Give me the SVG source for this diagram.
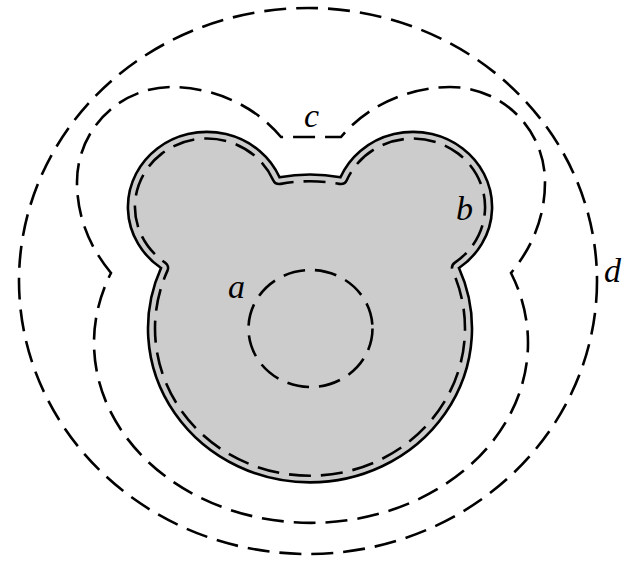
<svg xmlns="http://www.w3.org/2000/svg" width="638" height="561" viewBox="0 0 638 561">
<style>
.dash{fill:none;stroke:#000;stroke-width:2.6;stroke-dasharray:22 10}
.outline{fill:#cccccc;stroke:#000;stroke-width:2.6;stroke-linejoin:miter}
.lbl{font-family:"Liberation Serif","DejaVu Serif",serif;font-style:italic;font-size:34px;fill:#000}
</style>
<rect width="638" height="561" fill="#fff"/>
<g id="curve-d">
<ellipse class="dash" cx="308" cy="281" rx="289" ry="273"/>
</g>
<g id="curve-c">
<path class="dash" d="M111,273 C92,250 77,220 77,182 C77,129.5 119.5,87 172,87 C205,87 250,100 281,137 L341,137 C372,100 417,87 450,87 C502.5,87 545,129.5 545,182 C545,220 530,250 511,273 A217 180 0 1 1 111,273 Z"/>
</g>
<g id="bear">
<path class="outline" d="M279.53,177.34 A162 153.9 0 0 1 340.47,177.34 A79 75.05 0 1 1 458.97,268 A162 153.9 0 1 1 161.03,268 A79 75.05 0 1 1 279.53,177.34 Z"/>
</g>
<g id="curve-b">
<path class="dash" d="M273.1,179.97 A7 6.65 0 0 0 280.85,183.87 A155 147.25 0 0 1 339.15,183.87 A7 6.65 0 0 0 346.9,179.97 A72 68.4 0 1 1 454.9,262.6 A7 6.65 0 0 0 452.53,270.62 A155 147.25 0 1 1 167.47,270.62 A7 6.65 0 0 0 165.1,262.6 A72 68.4 0 1 1 273.1,179.97 Z"/>
</g>
<g id="curve-a">
<ellipse class="dash" cx="310.5" cy="328.5" rx="62" ry="58.5"/>
</g>
<g id="labels">
<text class="lbl" x="228" y="298">a</text>
<text class="lbl" x="456" y="220">b</text>
<text class="lbl" x="304" y="127">c</text>
<text class="lbl" x="604" y="282">d</text>
</g>
</svg>
